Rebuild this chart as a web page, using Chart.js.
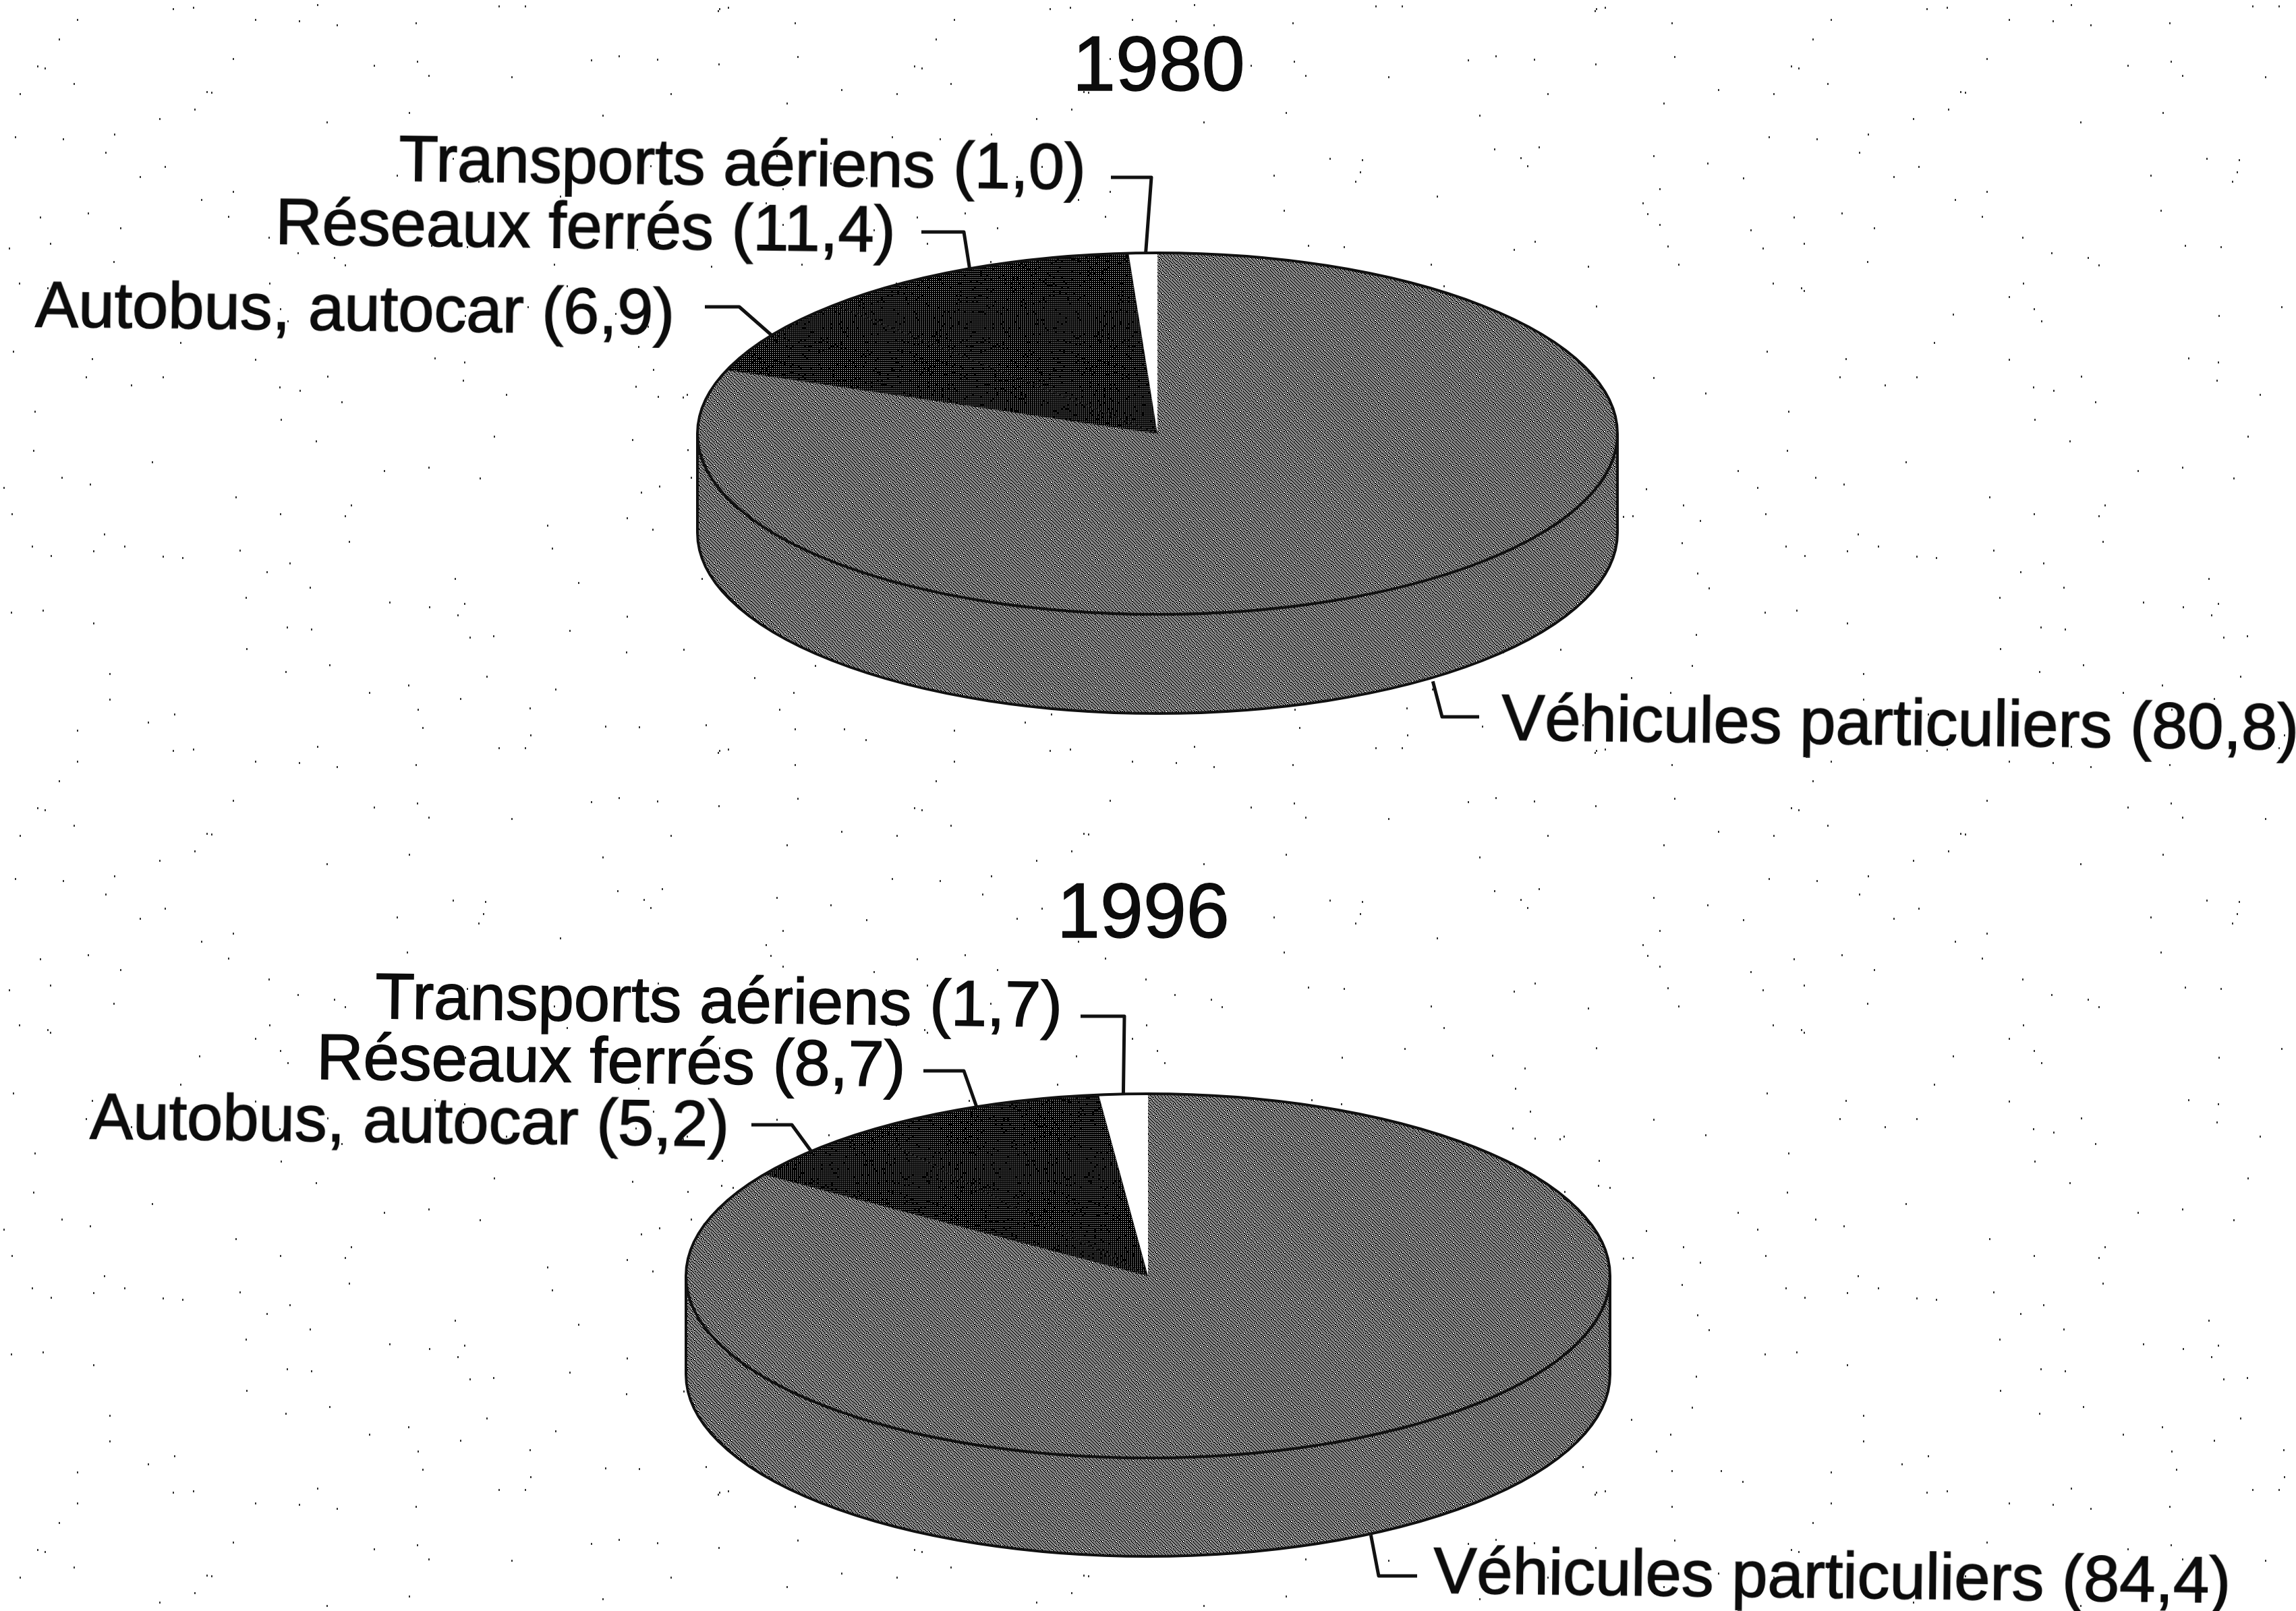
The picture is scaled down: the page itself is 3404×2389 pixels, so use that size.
<!DOCTYPE html>
<html lang="fr">
<head>
<meta charset="utf-8">
<title>Transports 1980 / 1996</title>
<script src="https://cdn.jsdelivr.net/npm/chart.js@4"></script>
<style>
  html, body { margin: 0; padding: 0; background: #fff; }
  #page { position: relative; width: 3404px; height: 2389px; overflow: hidden; font-family: "Liberation Sans", Arial, sans-serif; color: #0c0c0c; -webkit-text-stroke: 1.5px #0c0c0c; }
  canvas { position: absolute; }
  .lbl { position: absolute; white-space: nowrap; line-height: 1; font-size: 95.8px; transform-origin: 0 0.8465em; transform: rotate(0.7deg); }
  .year { position: absolute; white-space: nowrap; line-height: 1; font-size: 115px; }
</style>
</head>
<body>
<div id="page"></div>
<script>
const categories = ['Véhicules particuliers', 'Autobus, autocar', 'Réseaux ferrés', 'Transports aériens'];
const years = ['1980', '1996'];
const values1980 = [80.8, 6.9, 11.4, 1.0];
const values1996 = [84.4, 5.2, 8.7, 1.7];

// layout, in page pixels
const pies = [
  { cx: 1716, cy: 643, rx: 683, ry: 268, depth: 147, yearX: 1590, yearBase: 134 },
  { cx: 1702, cy: 1892, rx: 686, ry: 270, depth: 146, yearX: 1567, yearBase: 1390 }
];
const labelPos = [
  [[2226, 1097], [52, 484], [408, 362], [591, 268]],
  [[2125, 2362], [133, 1688], [469, 1600], [556, 1510]]
];
// stub start x,y then elbow x,y then nudge of the anchor on the rim
const leaders = [
  [[2193, 1063, 2138, 1063, 20], [1045, 455, 1096, 455, 0], [1366, 344, 1429, 344, 0], [1647, 263, 1707, 263, 4]],
  [[2101, 2337, 2044, 2337, 8], [1114, 1668, 1174, 1668, 0], [1369, 1588, 1429, 1588, 0], [1602, 1507, 1667, 1507, 0]]
];

const page = document.getElementById('page');

function hash(x, y) {
  const s = Math.sin(x * 127.1 + y * 311.7) * 43758.5453;
  return s - Math.floor(s);
}

function makeTile(size, isWhite) {
  const c = document.createElement('canvas');
  c.width = c.height = size;
  const g = c.getContext('2d');
  const img = g.createImageData(size, size);
  for (let y = 0; y < size; y++) {
    for (let x = 0; x < size; x++) {
      const v = isWhite(x, y) ? 255 : 0;
      const i = (y * size + x) * 4;
      img.data[i] = img.data[i + 1] = img.data[i + 2] = v;
      img.data[i + 3] = 255;
    }
  }
  g.putImageData(img, 0, 0);
  return c;
}

// scanned halftone: grey is broken diagonal lines, dark is black with sparse dots
const greyTile = makeTile(240, (x, y) => {
  const shift = hash(Math.floor(x / 5), Math.floor(y / 5)) > 0.6 ? 1 : 0;
  const band = (x - y + shift + 480) % 5;
  return band === 0 || band === 2;
});
const darkTile = makeTile(240, (x, y) => x % 3 === 0 && y % 3 === 0 && hash(x, y) > 0.08);

// stray specks of the scan behind everything
function speckBackground() {
  const c = document.createElement('canvas');
  c.width = 1300; c.height = 1100;
  const g = c.getContext('2d');
  g.fillStyle = '#fff';
  g.fillRect(0, 0, c.width, c.height);
  g.fillStyle = '#333';
  for (let i = 0; i < 220; i++) {
    g.fillRect(Math.floor(hash(i, 1) * c.width), Math.floor(hash(i, 2) * c.height), 2, 3);
  }
  page.style.background = `url(${c.toDataURL()})`;
}
speckBackground();

const tiltPlugin = {
  id: 'tilt',
  beforeDatasetsDraw(chart, args, opts) {
    const { ctx } = chart;
    const arc = chart.getDatasetMeta(0).data[0];
    const k = opts.ry / arc.outerRadius;
    const { x, y } = arc;
    // side wall, only the front half shows
    ctx.save();
    ctx.imageSmoothingEnabled = false;
    ctx.beginPath();
    ctx.ellipse(x, y, arc.outerRadius, opts.ry, 0, Math.PI, 0, true);
    ctx.ellipse(x, y + opts.depth, arc.outerRadius, opts.ry, 0, 0, Math.PI, false);
    ctx.closePath();
    ctx.fillStyle = opts.wall;
    ctx.fill();
    ctx.lineWidth = 4;
    ctx.strokeStyle = '#111';
    ctx.stroke();
    ctx.restore();
    // squash the pie itself into an ellipse
    ctx.save();
    ctx.imageSmoothingEnabled = false;
    ctx.translate(x, y);
    ctx.scale(1, k);
    ctx.translate(-x, -y);
  },
  afterDatasetsDraw(chart, args, opts) {
    const { ctx } = chart;
    ctx.restore();
    const meta = chart.getDatasetMeta(0);
    const { x, y, outerRadius } = meta.data[0];
    ctx.save();
    ctx.strokeStyle = '#111';
    ctx.lineWidth = 4;
    ctx.beginPath();
    ctx.ellipse(x, y, outerRadius, opts.ry, 0, 0, Math.PI * 2);
    ctx.stroke();
    // leader lines run to the middle of each slice on the rim
    ctx.lineJoin = 'round';
    ctx.lineWidth = 5;
    meta.data.forEach((a, i) => {
      const mid = (a.startAngle + a.endAngle) / 2;
      const wall = Math.sin(mid) > 0.3 ? opts.depth : 0;
      const ax = x + outerRadius * Math.cos(mid) + opts.leaders[i][4];
      const ay = y + opts.ry * Math.sin(mid) + wall;
      const l = opts.leaders[i];
      ctx.beginPath();
      ctx.moveTo(l[0] + opts.dx, l[1] - opts.dy);
      ctx.lineTo(l[2] + opts.dx, l[3] - opts.dy);
      ctx.lineTo(ax, ay);
      ctx.stroke();
    });
    ctx.restore();
  }
};

function drawPie(idx, values) {
  const p = pies[idx];
  const canvas = document.createElement('canvas');
  canvas.width = 3404;
  canvas.height = p.rx * 2;
  const dx = p.cx - 1702;
  const dy = p.cy - p.rx;
  canvas.style.left = dx + 'px';
  canvas.style.top = dy + 'px';
  page.appendChild(canvas);

  const ctx = canvas.getContext('2d');
  const unsquash = new DOMMatrix([1, 0, 0, p.rx / p.ry, 0, 0]);
  const grey = ctx.createPattern(greyTile, 'repeat');
  const greyFlat = ctx.createPattern(greyTile, 'repeat');
  const dark = ctx.createPattern(darkTile, 'repeat');
  grey.setTransform(unsquash);
  dark.setTransform(unsquash);

  new Chart(canvas, {
    type: 'pie',
    data: {
      labels: categories,
      datasets: [{
        data: values,
        backgroundColor: [grey, dark, dark, '#ffffff'],
        borderColor: '#1c1c1c',
        borderWidth: [0, 2, 2, 0]
      }]
    },
    options: {
      responsive: false,
      animation: false,
      devicePixelRatio: 1,
      layout: { padding: 0 },
      plugins: {
        legend: { display: false },
        tooltip: { enabled: false },
        tilt: {
          ry: p.ry, depth: p.depth, wall: greyFlat,
          leaders: leaders[idx], dx: -dx, dy: dy
        }
      }
    },
    plugins: [tiltPlugin]
  });

  // year and labels
  const year = document.createElement('div');
  year.className = 'year';
  year.textContent = years[idx];
  year.style.left = p.yearX + 'px';
  year.style.top = (p.yearBase - 115 * 0.8465) + 'px';
  page.appendChild(year);

  categories.forEach((c, i) => {
    const d = document.createElement('div');
    d.className = 'lbl';
    d.textContent = `${c} (${values[i].toFixed(1).replace('.', ',')})`;
    d.style.left = labelPos[idx][i][0] + 'px';
    d.style.top = (labelPos[idx][i][1] - 95.8 * 0.8465) + 'px';
    page.appendChild(d);
  });
}

drawPie(0, values1980);
drawPie(1, values1996);
</script>
</body>
</html>
